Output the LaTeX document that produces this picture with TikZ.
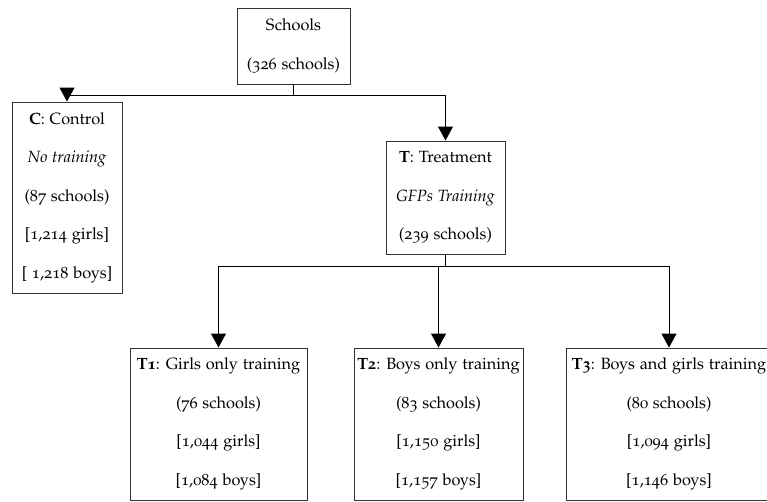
\documentclass[tikz,border=0pt]{standalone}
\usepackage[T1]{fontenc}
\usepackage[osf]{mathpazo}
\usetikzlibrary{positioning,arrows.meta}
\tikzset{
	flow/.style={-{Triangle[width=15pt,length=14pt]},line width=1pt},
	group/.style={draw=black!80,line width=1pt,align=center,inner sep=3pt,
		font=\fontsize{16.3}{38.5}\selectfont}
}

\begin{document}
\begin{tikzpicture}[x=1pt,y=-1pt]
	\useasboundingbox (0,0) rectangle (767,501);
	
	\node[group,minimum width=113pt,minimum height=76pt] (schools) at (293.5,46) {Schools\\(326 schools)};
	\node[group,minimum width=110pt,minimum height=191pt] (c) at (67,197.5) {\textbf{C}: Control\\\textit{No training}\\(87 schools)\\{}[1,214 girls]\\{}[ 1,218 boys]};
	\node[group,minimum width=119pt,minimum height=113pt] (t) at (445.5,197.5) {\textbf{T}: Treatment\\\textit{GFPs Training}\\(239 schools)};
	\node[group,minimum width=177pt,minimum height=152pt] (t1) at (218.5,424) {\textbf{T1}: Girls only training\\(76 schools)\\{}[1,044 girls]\\{}[1,084 boys]};
	\node[group,minimum width=169pt,minimum height=152pt] (t2) at (438.5,424) {\textbf{T2}: Boys only training\\(83 schools)\\{}[1,150 girls]\\{}[1,157 boys]};
	\node[group,minimum width=206pt,minimum height=152pt] (t3) at (669,424) {\textbf{T3}: Boys and girls training\\(80 schools)\\{}[1,094 girls]\\{}[1,146 boys]};
	
	\draw[flow] (schools.south) -- ++(0,11) -| (c.north);
	\draw[flow] (schools.south) -- ++(0,11) -| (t.north);
	\draw[flow] (t.south) -- ++(0,12) -| (t1.north);
	\draw[flow] (t.south) -- ++(0,12) -| (t2.north);
	\draw[flow] (t.south) -- ++(0,12) -| (t3.north);
	
\end{tikzpicture}
\end{document}
